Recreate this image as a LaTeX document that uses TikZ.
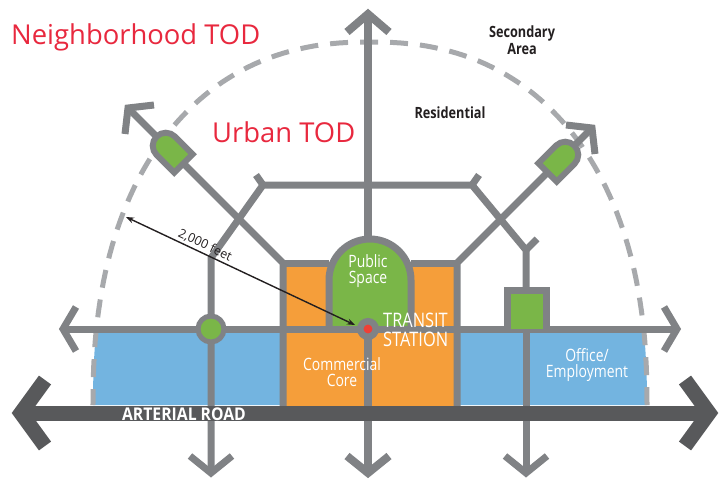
\documentclass[tikz,border=0pt]{standalone}
\usepackage{fontspec}
\setmainfont{Open Sans}
\newfontfamily\cnd[FakeStretch=0.82]{Open Sans}
\newfontfamily\wcnd[FakeStretch=0.9]{Open Sans}
\usetikzlibrary{arrows.meta}
\definecolor{road}{RGB}{128,130,133}
\definecolor{artery}{RGB}{88,89,91}
\definecolor{dashgray}{RGB}{167,169,172}
\definecolor{parkgreen}{RGB}{122,182,72}
\definecolor{coreorange}{RGB}{245,158,58}
\definecolor{officeblue}{RGB}{115,180,224}
\definecolor{todred}{RGB}{232,40,62}
\definecolor{stationred}{RGB}{238,64,54}
\definecolor{labeltext}{RGB}{35,31,32}
\tikzset{
 street/.style={draw=road, line width=7pt, line join=miter, line cap=butt},
 mainroad/.style={street, line width=8pt},
 artroad/.style={draw=artery, line width=15pt, line join=miter, line cap=butt},
 rimline/.style={draw=dashgray, line width=5pt, dash pattern=on 18pt off 12pt},
 todtitle/.style={text=todred, inner sep=0pt, anchor=base west, font=\fontsize{27.4}{31}\selectfont},
 darklabel/.style={text=labeltext, align=center, inner sep=0pt, font=\cnd\bfseries\fontsize{15.5}{17}\selectfont},
 whitelabel/.style={text=white, align=center, inner sep=0pt, font=\cnd\fontsize{17}{16}\selectfont},
 bulletshape/.style={fill=parkgreen, draw=road, line width=6pt, line join=miter},
}
\begin{document}
\begin{tikzpicture}[x=1pt,y=-1pt]
\useasboundingbox (0,0) rectangle (723,479);
% ---- land use fills
\begin{scope}
\clip plot[domain=0.05:89.95, samples=60] ({370+277*pow(cos(\x),0.87)}, {406-364*pow(sin(\x),0.87)})
   -- plot[domain=89.95:0.05, samples=60] ({370-277*pow(cos(\x),0.87)}, {406-364*pow(sin(\x),0.87)}) -- cycle;
\fill[officeblue] (0,329) rectangle (283,406);
\fill[officeblue] (457,329) rectangle (723,406);
\end{scope}
\fill[coreorange] (283,263) rectangle (457,406);
\fill[parkgreen] (329,329) -- (329,280) .. controls (329,257.4) and (347.4,239) .. (370,239)
   .. controls (392.6,239) and (411,257.4) .. (411,280) -- (411,329) -- cycle;
% ---- dashed TOD rim
\draw[rimline] plot[domain=0.05:89.95, samples=60] ({370+277*pow(cos(\x),0.87)}, {406-364*pow(sin(\x),0.87)})
   -- plot[domain=89.95:0.05, samples=60] ({370-277*pow(cos(\x),0.87)}, {406-364*pow(sin(\x),0.87)});
% ---- street network
\draw[street] (63,329) -- (677,329);
\draw[street] (76,307) -- (63,329) -- (76,351);
\draw[street] (664,307) -- (677,329) -- (664,351);
\draw[mainroad] (368,14) -- (368,239);
\draw[mainroad] (347,32) -- (368,14) -- (389,32);
\draw[mainroad] (368,329) -- (368,473);
\draw[mainroad] (347,456) -- (368,473) -- (389,456);
% hexagon ring
\draw[street] (211,473) -- (211,258) -- (263,185) -- (472,185) -- (526,250) -- (526,290);
\draw[street] (263,185) -- (256,175);
\draw[street] (472,185) -- (479,175);
\draw[street] (526,250) -- (537,239);
\draw[street] (526,329) -- (526,473);
\draw[street] (190,456) -- (211,473) -- (232,456);
\draw[street] (505,456) -- (526,473) -- (547,456);
% diagonals
\draw[street] (128,108) -- (283,263) -- (283,406);
\draw[street] (154,105) -- (128,108) -- (125,134);
\draw[street] (592,128) -- (457,263) -- (457,406);
\draw[street] (566,125) -- (592,128) -- (595,154);
\draw[street] (283,263) -- (329,263);
\draw[street] (411,263) -- (457,263);
% public space arch
\draw[street] (329,329) -- (329,280) .. controls (329,257.4) and (347.4,239) .. (370,239)
   .. controls (392.6,239) and (411,257.4) .. (411,280) -- (411,329);
% green square
\draw[street, fill=parkgreen] (507,329) -- (507,290) -- (546,290) -- (546,329);
% nodes on the ring road
\node[circle, fill=parkgreen, draw=road, line width=5pt, minimum size=26pt, inner sep=0pt] (park) at (211,329) {};
\node[circle, fill=stationred, draw=road, line width=6.5pt, minimum size=15.5pt, inner sep=0pt] (station) at (368,329) {};
% bullets
\begin{scope}[shift={(170,150)}, rotate=135]
\draw[bulletshape] (-19,-13) -- (6,-13) .. controls (13.2,-13) and (19,-7.2) .. (19,0)
   .. controls (19,7.2) and (13.2,13) .. (6,13) -- (-19,13) -- cycle;
\end{scope}
\begin{scope}[shift={(561,159)}, rotate=45]
\draw[bulletshape] (-19,-13) -- (6,-13) .. controls (13.2,-13) and (19,-7.2) .. (19,0)
   .. controls (19,7.2) and (13.2,13) .. (6,13) -- (-19,13) -- cycle;
\end{scope}
% arterial road
\draw[artroad] (21,413) -- (709,413);
\draw[artroad] (45,380) -- (21,413) -- (45,446);
\draw[artroad] (685,380) -- (709,413) -- (685,446);
% 2000 feet radius
\coordinate (dimA) at (126,217);
\coordinate (dimB) at (355,325);
\draw[{Stealth[length=8pt,width=6pt]}-{Stealth[length=8pt,width=6pt]}, line width=1.4pt, labeltext]
  (dimA) -- node[pos=0.33, sloped, above=1pt, inner sep=1pt, font=\fontsize{12.5}{13}\selectfont, text=labeltext] (feet) {2,000 feet} (dimB);
% labels
\node[todtitle] (nbh) at (11,44) {Neighborhood TOD};
\node[todtitle] (urban) at (212,142) {Urban TOD};
\node[darklabel] (sec) at (522,40) {Secondary\\Area};
\node[darklabel] (res) at (450,113) {Residential};
\node[whitelabel] (pub) at (368,271) {Public\\Space};
\node[whitelabel, align=left, anchor=west, font=\cnd\fontsize{20}{19}\selectfont] (transit) at (383,330) {TRANSIT\\STATION};
\node[whitelabel] (core) at (342,372) {Commercial\\Core};
\node[whitelabel] (office) at (587,365) {Office/\\Employment};
\node[text=white, inner sep=0pt, font=\wcnd\bfseries\fontsize{17.5}{17}\selectfont] (art) at (184,414) {ARTERIAL ROAD};
\end{tikzpicture}
\end{document}
